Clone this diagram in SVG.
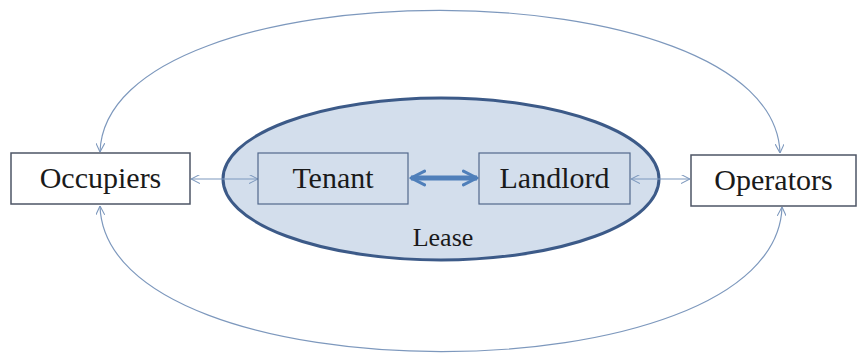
<svg xmlns="http://www.w3.org/2000/svg" width="859" height="354" viewBox="0 0 859 354">
<style>
text{font-family:'Liberation Serif','Times New Roman',serif;fill:#1a1a1a;text-anchor:middle}
.big{font-size:30px}
.small{font-size:26px}
.outer{fill:#ffffff;stroke:#4d5566;stroke-width:1.5}
.inner{fill:#d3deec;stroke:#52688c;stroke-width:1.2}
.conn{fill:none;stroke:#7d98bd;stroke-width:1.2;marker-start:url(#open);marker-end:url(#open)}
.thick{fill:none;stroke:#4f7fba;stroke-width:5;marker-start:url(#thick);marker-end:url(#thick)}
</style>
<defs>
<marker id="open" viewBox="0 0 10 10" refX="10" refY="5" markerWidth="9" markerHeight="9" markerUnits="userSpaceOnUse" orient="auto-start-reverse">
<path d="M0,0 L10,5 L0,10" fill="none" stroke="#7d98bd" stroke-width="1.2"/>
</marker>
<marker id="thick" viewBox="0 0 10 10" refX="9" refY="5" markerWidth="3.4" markerHeight="3.8" orient="auto-start-reverse">
<path d="M1,1 L9,5 L1,9" fill="none" stroke="#4f7fba" stroke-width="1.8" stroke-linecap="round" stroke-linejoin="round"/>
</marker>
</defs>
<rect width="859" height="354" fill="#ffffff"/>
<g id="lease">
<ellipse cx="441" cy="179" rx="218" ry="81" fill="#d3deec" stroke="#3c5a88" stroke-width="3"/>
<text class="small" x="443" y="246">Lease</text>
</g>
<g id="connectors">
<path class="conn" d="M100,152 C106,-37 774,-37 780,153"/>
<path class="conn" d="M100,206 C106,400 776,400 782,207"/>
<path class="conn" d="M191,179 L258,179"/>
<path class="conn" d="M631,179 L690,179"/>
<path class="thick" d="M411,178 L477,178"/>
</g>
<g id="occupiers">
<rect class="outer" x="11" y="153" width="179" height="51"/>
<text class="big" x="100.5" y="188">Occupiers</text>
</g>
<g id="tenant">
<rect class="inner" x="258" y="153" width="150" height="51"/>
<text class="big" x="333" y="188">Tenant</text>
</g>
<g id="landlord">
<rect class="inner" x="479" y="153" width="151" height="51"/>
<text class="big" x="554.5" y="188">Landlord</text>
</g>
<g id="operators">
<rect class="outer" x="691" y="155" width="165" height="51"/>
<text class="big" x="773.5" y="190">Operators</text>
</g>
</svg>
